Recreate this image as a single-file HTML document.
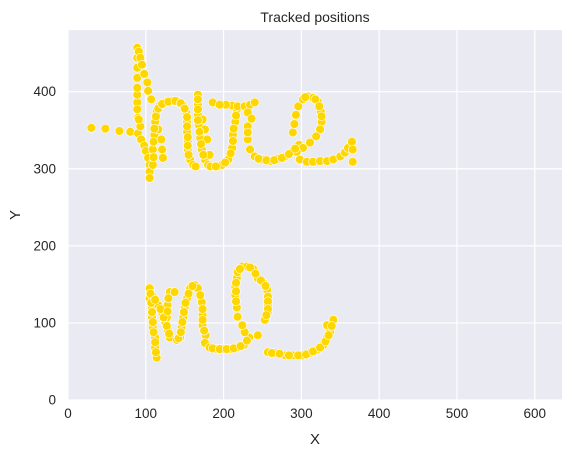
<!DOCTYPE html>
<html><head><meta charset="utf-8"><style>
body{margin:0;background:#fff;}
svg text{font-family:"Liberation Sans",sans-serif;fill:#262626;}
</style></head><body>
<svg id="chart" width="575" height="457" viewBox="0 0 575 457">
<rect x="68" y="30" width="494" height="370" fill="#EAEAF2"/>
<g id="grid"></g>
<g id="pts"></g>
<g id="ticks"></g>
<text x="315" y="22" text-anchor="middle" font-size="14">Tracked positions</text>
<text x="315" y="444" text-anchor="middle" font-size="15">X</text>
<text x="20" y="215" text-anchor="middle" font-size="15" transform="rotate(-90 20 215)">Y</text>
</svg>
<script>
const xTicks=[0,100,200,300,400,500,600];
const yTicks=[0,100,200,300,400];
const xs=[30,48,66,80,90,93,90,89,89,89,89,89,89,89,91,93,95,98,102,103,107,89,91,94,98,100,103,105,105,105,
109,109,111,112,114,118,125,134,141,148,152,153,153,154,154,157,161,164,116,120,121,122,
167,167,167,168,170,172,176,180,186,193,198,206,211,212,215,217,211,203,173,176,179,182,
186,195,218,227,234,240,231,231,231,234,240,249,260,270,279,288,297,
289,293,296,302,308,315,321,325,326,324,319,311,302,294,298,307,315,324,333,341,350,356,360,365,366,366,
105,105,108,108,109,112,112,114,109,116,121,125,128,131,131,128,127,137,
140,144,146,148,150,153,157,163,167,172,173,173,177,176,182,191,199,208,217,226,233,244,
227,224,218,217,215,215,217,218,224,230,238,244,251,256,257,257,257,253,
257,266,279,289,302,311,320,328,333,337,341,333,
110,110,111,113,116,121,129,138,145,150,153,153,154,154,155,
167,167,167,169,171,174,183,190,202,209,212,213,216,
236,231,245,255,265,275,284,292,291,305,318,323,326,
106,107,108,109,110,112,113,112,119,123,127,130,129,128,142,145,147,149,151,155,160,170,173,173,175,
186,195,204,213,222,230,216,216,216,221,234,241,248,254,257,257,255,
262,272,284,296,306,315,324,331,335,339];
const ys=[353,352,349,348,346,355,366,386,396,405,418,431,444,457,452,444,435,423,412,401,390,377,364,338,330,323,314,305,296,288,
305,325,344,361,374,382,386,388,387,382,373,361,348,335,325,312,305,303,351,338,325,314,
396,383,370,357,340,325,312,305,303,303,305,312,327,344,361,377,382,383,364,351,338,318,
386,383,381,381,383,386,373,355,338,325,316,312,310,313,316,322,331,
347,370,381,390,394,392,387,374,361,351,342,334,327,322,312,309,309,310,310,312,316,321,327,335,325,309,
145,132,120,107,94,81,68,55,134,123,113,101,91,81,140,123,107,140,
78,81,94,107,120,132,145,149,145,127,110,97,84,74,68,66,66,66,68,71,81,84,
88,97,108,120,136,147,158,166,173,173,170,158,152,143,134,123,114,104,
62,61,58,58,58,61,65,71,81,88,104,97,
315,335,352,368,378,384,387,388,385,378,367,355,341,330,318,
390,377,363,348,332,318,303,303,308,320,336,352,369,
365,347,313,311,311,314,319,326,358,393,390,381,368,
138,126,114,101,88,75,62,130,118,107,96,86,132,115,80,88,101,114,126,138,148,136,118,104,90,
67,66,66,67,70,77,128,141,152,170,172,164,155,148,128,118,110,
61,60,58,58,59,63,68,76,84,96];
const X0=68,X1=562,Y0=400,Y1=30,XMAX=635,YMAX=480;
const sx=v=>X0+v/XMAX*(X1-X0);
const sy=v=>Y0-v/YMAX*(Y0-Y1);
const NS='http://www.w3.org/2000/svg';
const grid=document.getElementById('grid'),tk=document.getElementById('ticks'),pts=document.getElementById('pts');
xTicks.forEach(t=>{
 const l=document.createElementNS(NS,'line');
 l.setAttribute('x1',sx(t));l.setAttribute('x2',sx(t));l.setAttribute('y1',Y1);l.setAttribute('y2',Y0);
 l.setAttribute('stroke','#fff');l.setAttribute('stroke-width','1.2');
 
 
 grid.appendChild(l);
 const tx=document.createElementNS(NS,'text');
 tx.setAttribute('x',sx(t));tx.setAttribute('y',418);tx.setAttribute('text-anchor','middle');tx.setAttribute('font-size','13.5');
 tx.textContent=t;
 
 
 tk.appendChild(tx);
});
yTicks.forEach(t=>{
 const l=document.createElementNS(NS,'line');
 l.setAttribute('x1',X0);l.setAttribute('x2',X1);l.setAttribute('y1',sy(t));l.setAttribute('y2',sy(t));
 l.setAttribute('stroke','#fff');l.setAttribute('stroke-width','1.2');
 
 
 grid.appendChild(l);
 const tx=document.createElementNS(NS,'text');
 tx.setAttribute('x',56);tx.setAttribute('y',sy(t)+4.5);tx.setAttribute('text-anchor','end');tx.setAttribute('font-size','13.5');
 tx.textContent=t;
 
 
 tk.appendChild(tx);
});
xs.forEach((v,i)=>{
 const c=document.createElementNS(NS,'circle');
 c.setAttribute('cx',sx(v));c.setAttribute('cy',sy(ys[i]));c.setAttribute('r','4.4');
 c.setAttribute('fill','#FFD700');c.setAttribute('stroke','#fff');c.setAttribute('stroke-width','0.6');
 
 
 pts.appendChild(c);
});
</script>
</body></html>
